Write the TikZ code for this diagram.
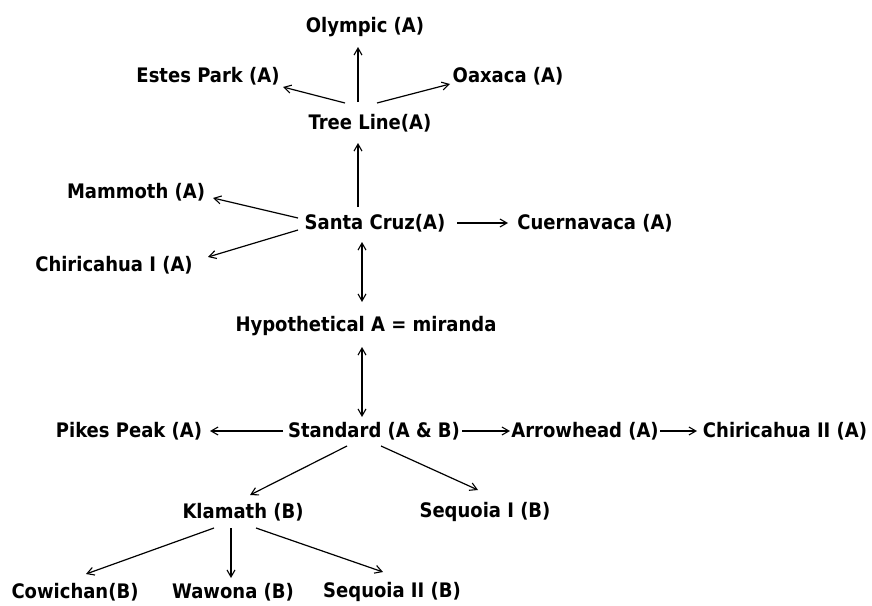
\documentclass[tikz,border=0pt]{standalone}
\usepackage{fontspec}
\setmainfont{DejaVu Sans Condensed}
\usetikzlibrary{arrows.meta}
\begin{document}
\begin{tikzpicture}[x=1pt,y=-1pt,
  lab/.style={inner sep=0pt,font=\fontsize{20}{24}\selectfont\bfseries},
  tip/.style={Straight Barb[length=7pt,width=8pt,line width=1.1pt]},
  conn/.style={line width=1.2pt,-{Straight Barb[length=7pt,width=8pt,line width=1.1pt]}},
  dconn/.style={line width=1.2pt,{Straight Barb[length=7pt,width=8pt,line width=1.1pt]}-{Straight Barb[length=7pt,width=8pt,line width=1.1pt]}}]
\useasboundingbox (0,0) rectangle (872,605);
\node[lab] (oly) at (365,27) {Olympic (A)};
\node[lab] (estes) at (208,76) {Estes Park (A)};
\node[lab] (oax) at (508,76) {Oaxaca (A)};
\node[lab] (tree) at (370,123) {Tree Line(A)};
\node[lab] (mam) at (136,192) {Mammoth (A)};
\node[lab] (sc) at (375,223) {Santa Cruz(A)};
\node[lab] (cuer) at (595,223) {Cuernavaca (A)};
\node[lab] (chi1) at (114,265) {Chiricahua I (A)};
\node[lab] (hyp) at (366,326) {Hypothetical A = miranda};
\node[lab] (pikes) at (129,431) {Pikes Peak (A)};
\node[lab] (std) at (374,431) {Standard (A \& B)};
\node[lab] (arrowh) at (585,431) {Arrowhead (A)};
\node[lab] (chi2) at (785,431) {Chiricahua II (A)};
\node[lab] (kla) at (243,512) {Klamath (B)};
\node[lab] (seq1) at (485,512) {Sequoia I (B)};
\node[lab] (cow) at (75,592) {Cowichan(B)};
\node[lab] (waw) at (233,592) {Wawona (B)};
\node[lab] (seq2) at (392,592) {Sequoia II (B)};

\draw[conn] ([shift={(-12,-21)}]tree.center) -- ([shift={(-7,20)}]oly.center);
\draw[conn] ([shift={(-25,-20)}]tree.center) -- ([shift={(75,11)}]estes.center);
\draw[conn] ([shift={(7,-20)}]tree.center) -- ([shift={(-58,8)}]oax.center);
\draw[conn] ([shift={(-17,-16)}]sc.center) -- ([shift={(-12,20)}]tree.center);
\draw[conn] ([shift={(-77,-5)}]sc.center) -- ([shift={(77,6)}]mam.center);
\draw[conn] ([shift={(-77,7)}]sc.center) -- ([shift={(94,-8)}]chi1.center);
\draw[conn] ([shift={(82,0)}]sc.center) -- ([shift={(-87,0)}]cuer.center);
\draw[dconn] ([shift={(-13,19)}]sc.center) -- ([shift={(-4,-24)}]hyp.center);
\draw[dconn] ([shift={(-4,21)}]hyp.center) -- ([shift={(-12,-14)}]std.center);
\draw[conn] ([shift={(-91,0)}]std.center) -- ([shift={(81,0)}]pikes.center);
\draw[conn] ([shift={(88,0)}]std.center) -- ([shift={(-75,0)}]arrowh.center);
\draw[conn] ([shift={(75,0)}]arrowh.center) -- ([shift={(-88,0)}]chi2.center);
\draw[conn] ([shift={(-27,15)}]std.center) -- ([shift={(7,-17)}]kla.center);
\draw[conn] ([shift={(7,15)}]std.center) -- ([shift={(-7,-22)}]seq1.center);
\draw[conn] ([shift={(-29,16)}]kla.center) -- ([shift={(11,-18)}]cow.center);
\draw[conn] ([shift={(-12,16)}]kla.center) -- ([shift={(-2,-14)}]waw.center);
\draw[conn] ([shift={(13,16)}]kla.center) -- ([shift={(-9,-20)}]seq2.center);
\end{tikzpicture}
\end{document}
